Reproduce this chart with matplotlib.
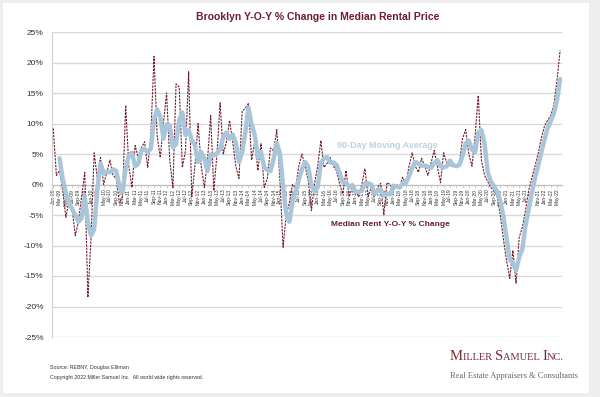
import matplotlib
matplotlib.use('Agg')
import matplotlib.pyplot as plt
import pandas as pd
from matplotlib.patches import Rectangle

plt.rcParams['font.family'] = ['Liberation Sans', 'DejaVu Sans']

# monthly categories, Jan-09 .. Jun-22
months = pd.date_range('2009-01-01', '2022-06-01', freq='MS')
month_labels = [m.strftime('%b-%y') for m in months]

# median rent y-o-y % change
rent_yoy = [
    9.2, 1.5, 2.3, -1, -5.4, -2.6, -4, -8.4, -6, -2, 2, -18.5,
    -8.7, 5.2, 1, 4.4, 0, 2, 4, 1.5, 1, -3, -2, 13,
    3, -0.5, 6.4, 4.4, 6, 7, 2.8, 8, 21, 8, 4.4, 10,
    15, 4, -0.6, 16.5, 16, 2.8, 5.5, 18.5, -2, 3, 10, 3,
    -0.5, 4, 11.3, -1, 5, 13.4, 5, 7, 10.5, 7, 3, 1,
    12, 12.5, 13.3, 4, 7, 2.3, 6.7, -0.5, 1, 6, 5.5, 9,
    0.7, -10.3, -5, -3, 0, -0.5, 3, 5, 3, 0.7, -4.3, 0.2,
    3, 7.2, 2.8, 3.5, 4.4, 3, 2.3, 0, -1.5, 2.3, -2, -0.5,
    -1, -2, 0, 2.6, -2, -0.5, -2, -0.5, 0.2, -5, 0.3, 0,
    -1, 0, -0.5, 1.2, 0, 3, 5.2, 3, 2, 4.3, 3, 1.5,
    3.5, 5.6, 3, 0.3, 5.2, 3.5, 3, 3.1, 3, 3.5, 7.5, 9,
    5, 3, 8, 14.6, 4, 1.5, 0.5, -0.5, -1, -2, -5, -9,
    -12.5, -15.4, -10.8, -16.2, -8.7, -7, -4.3, -1, 1, 3, 5, 7.5,
    9.5, 10.5, 11.3, 13, 17, 22,
]

# 90-day moving average line, starts Mar-09
moving_avg = [
    4.3, 0.9, -1.4, -3.0, -4.0, -5.0, -6.1, -5.5, -2.0, -6.2,
    -8.4, -7.3, -0.8, 3.5, 1.8, 2.1, 2.0, 2.5, 2.2, -0.2, -1.3, 2.7,
    4.7, 5.2, 3.0, 3.4, 5.6, 5.8, 5.3, 5.9, 10.6, 12.3, 11.1, 7.5,
    9.8, 9.7, 6.1, 6.6, 10.6, 11.8, 8.1, 8.9, 7.3, 6.5, 3.7, 5.3,
    4.2, 2.2, 4.9, 4.8, 5.1, 5.8, 7.8, 8.5, 7.5, 8.2, 6.8, 3.7,
    5.3, 8.5, 12.6, 9.9, 8.1, 4.4, 5.3, 2.8, 2.4, 2.2, 4.2, 6.8,
    5.1, -0.2, -4.9, -6.1, -2.7, -1.2, 0.8, 2.5, 3.7, 2.9, -0.2, -1.1,
    -0.4, 3.5, 4.3, 4.5, 3.6, 3.6, 3.2, 1.8, 0.3, 0.3, -0.4, -0.1,
    -1.2, -1.2, -1.0, 0.2, 0.2, 0.0, -1.5, -1.0, -0.8, -1.8, -1.5, -1.6,
    -0.2, -0.3, -0.5, 0.2, 0.2, 1.4, 2.7, 3.7, 3.4, 3.1, 3.1, 2.9,
    2.7, 3.5, 4.0, 3.0, 2.8, 3.0, 3.9, 3.2, 3.0, 3.2, 4.7, 6.7,
    7.2, 5.7, 5.3, 8.5, 8.9, 6.7, 2.0, 0.5, -0.3, -1.2, -2.7, -5.3,
    -8.8, -12.3, -12.9, -14.1, -11.9, -10.6, -6.7, -4.1, -1.4, 1.0, 3.0, 5.2,
    7.3, 9.2, 10.4, 11.6, 13.8, 17.3,
]

y_ticks = list(range(-25, 30, 5))

RED = '#6e1c2c'
BLUE = '#a9c5da'

fig = plt.figure(figsize=(6, 3.97), dpi=100)
fig.patch.set_facecolor('#eeeeee')
fig.patches.append(Rectangle((3 / 600, 4 / 397), 586 / 600, 390 / 397,
                             transform=fig.transFigure, facecolor='white',
                             edgecolor='none', zorder=-5))

ax = fig.add_axes([52 / 600, 60 / 397, 510 / 600, 305 / 397])
ax.set_facecolor('none')

# spine position first, it resets the tick styling
for s in ['top', 'right']:
    ax.spines[s].set_visible(False)
ax.spines['left'].set_color('#d0d0d0')
ax.spines['bottom'].set_position(('data', 0))
ax.spines['bottom'].set_color('#bfbfbf')

x_all = list(range(len(rent_yoy)))
x_ma = list(range(2, 2 + len(moving_avg)))

ax.plot(x_all, rent_yoy, color=RED, lw=0.8, dashes=(2, 1), zorder=3)
ax.plot(x_ma, moving_avg, color=BLUE, lw=3.2, solid_capstyle='round', zorder=4)

ax.set_xlim(-0.4, 161.6)
ax.set_ylim(-25, 25)
ax.set_yticks(y_ticks)
ax.set_yticklabels([f'{v}%' for v in y_ticks], fontsize=6, color='#333333')
ax.yaxis.grid(True, color='#d9d9d9', lw=1)
ax.set_axisbelow(True)
ax.tick_params(axis='y', length=0, pad=6)

ax.set_xticks(x_all[::2])
ax.set_xticklabels(month_labels[::2], rotation=90, fontsize=3.6, color='#333333')
ax.tick_params(axis='x', length=2, width=0.5, color='#bfbfbf', pad=1)

def px(x, y):
    return x / 600, 1 - y / 397

fig.text(*px(318, 17), 'Brooklyn Y-O-Y % Change in Median Rental Price',
         ha='center', va='center', fontsize=7.5, weight='bold', color=RED)
fig.text(*px(387, 146), '90-Day Moving Average', ha='center', va='center',
         fontsize=6.5, weight='bold', color='#bcd2e3')
fig.text(*px(390, 224), 'Median Rent Y-O-Y % Change', ha='center', va='center',
         fontsize=6, weight='bold', color=RED)

fig.text(*px(50, 368), 'Source: REBNY, Douglas Elliman', ha='left', va='center',
         fontsize=3.8, color='#333333')
fig.text(*px(50, 378), 'Copyright 2022 Miller Samuel Inc.  All world wide rights reserved.',
         ha='left', va='center', fontsize=3.8, color='#333333')

# logo: small caps built from big + small pieces
logo = [('M', 10.5), ('ILLER ', 7.5), ('S', 10.5), ('AMUEL ', 7.5), ('I', 10.5), ('NC.', 7.5)]
renderer = fig.canvas.get_renderer()
lx = 450
for piece, size in logo:
    t = fig.text(*px(lx, 360), piece, ha='left', va='baseline', fontsize=size,
                 family='Liberation Serif', color='#7a2a36')
    lx += t.get_window_extent(renderer).width
fig.text(*px(450, 376), 'Real Estate Appraisers & Consultants', ha='left', va='center',
         fontsize=6, family='Liberation Serif', color='#666666')

fig.savefig('out.png', dpi=100, facecolor=fig.get_facecolor())
